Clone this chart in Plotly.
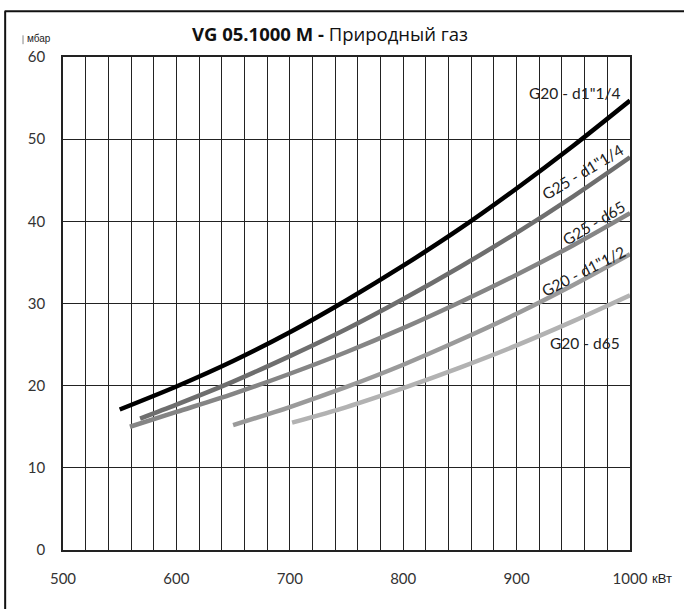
import plotly.graph_objects as go

# ---- data ----
x_g20_d114 = [550, 600, 650, 700, 750, 800, 850, 900, 950, 1000]
y_g20_d114 = [17.1, 19.9, 23.0, 26.5, 30.4, 34.6, 39.1, 44.0, 49.2, 54.7]

x_g25_d114 = [568, 600, 650, 700, 750, 800, 850, 900, 950, 1000]
y_g25_d114 = [16.0, 17.7, 20.5, 23.6, 26.9, 30.55, 34.45, 38.6, 43.05, 47.8]

x_g25_d65 = [559, 600, 650, 700, 750, 800, 850, 900, 950, 1000]
y_g25_d65 = [15.0, 16.8, 19.0, 21.45, 24.1, 27.0, 30.15, 33.5, 37.1, 41.0]

x_g20_d112 = [650, 700, 750, 800, 850, 900, 950, 1000]
y_g20_d112 = [15.2, 17.4, 19.85, 22.55, 25.55, 28.75, 32.25, 36.0]

x_g20_d65 = [702, 750, 800, 850, 900, 950, 1000]
y_g20_d65 = [15.5, 17.4, 19.7, 22.2, 24.9, 27.85, 31.0]

x_ticks = [500, 600, 700, 800, 900, 1000]
x_ticktext = ["500", "600", "700", "800", "900", "1000"]
y_ticks = [0, 10, 20, 30, 40, 50, 60]

series = [
    ("G20 - d1\"1/4", x_g20_d114, y_g20_d114, "#000000"),
    ("G25 - d1\"1/4", x_g25_d114, y_g25_d114, "#6e6e6e"),
    ("G25 - d65", x_g25_d65, y_g25_d65, "#858585"),
    ("G20 - d1\"1/2", x_g20_d112, y_g20_d112, "#9a9a9a"),
    ("G20 - d65", x_g20_d65, y_g20_d65, "#b2b2b2"),
]

# label placement (data coords) and angles
labels = [
    ("G20 - d1\"1/4", 951, 55.6, 0),
    ("G25 - d1\"1/4", 958, 46.0, -31),
    ("G25 - d65", 968, 39.8, -31),
    ("G20 - d1\"1/2", 959, 33.9, -27),
    ("G20 - d65", 960, 25.2, 0),
]

fig = go.Figure()
for name, xs, ys, col in series:
    fig.add_trace(go.Scatter(x=xs, y=ys, mode="lines", name=name,
                             line=dict(color=col, width=4.5, shape="spline", smoothing=0.8),
                             showlegend=False, hoverinfo="skip"))

font_fam = "Lato, 'Open Sans', sans-serif"

for txt, lx, ly, ang in labels:
    fig.add_annotation(x=lx, y=ly, text=txt, textangle=ang, showarrow=False,
                       font=dict(family=font_fam, size=15.5, color="#222"))

fig.add_annotation(xref="paper", yref="paper", x=1.0, y=0, xshift=20, yshift=-28,
                   xanchor="left", yanchor="middle", text="кВт", showarrow=False,
                   font=dict(family="'Liberation Sans Narrow', 'Liberation Sans', sans-serif", size=13, color="#222"))
fig.add_annotation(xref="paper", yref="paper", x=0, y=1, xshift=-38, yshift=19,
                   xanchor="left", yanchor="middle", text="мбар", showarrow=False,
                   font=dict(family="'Liberation Sans Narrow', 'Liberation Sans', sans-serif", size=10, color="#222"))

# outer border (left and top edges visible)
fig.add_shape(type="line", xref="paper", yref="paper", x0=-0.102, x1=-0.102, y0=-0.2, y1=1.093,
              line=dict(color="#111", width=2))
fig.add_shape(type="line", xref="paper", yref="paper", x0=-0.103, x1=1.2, y0=1.093, y1=1.093,
              line=dict(color="#111", width=2))
# small tick mark near unit label
fig.add_shape(type="line", xref="paper", yref="paper", x0=-0.0705, x1=-0.0705, y0=1.026, y1=1.044,
              line=dict(color="#888", width=1))

fig.update_layout(
    width=684, height=609,
    margin=dict(l=63, r=54, t=57, b=59),
    paper_bgcolor="white", plot_bgcolor="white",
    title=dict(text="<b>VG 05.1000 M - </b>Природный газ", x=330 / 684, xanchor="center",
               y=1 - 35 / 609, yanchor="middle",
               font=dict(family="'Open Sans', sans-serif", size=18.5, color="#111")),
    xaxis=dict(range=[500, 1000], tickvals=x_ticks, ticktext=x_ticktext,
               showgrid=False, zeroline=False, showline=True, linecolor="#222", linewidth=1.5,
               mirror=True, ticks="", ticklabelstandoff=14,
               tickfont=dict(family=font_fam, size=15, color="#333"),
               minor=dict(dtick=20, showgrid=True, gridcolor="#222", gridwidth=1)),
    yaxis=dict(range=[0, 60], tickvals=y_ticks, showgrid=True, gridcolor="#222", gridwidth=1,
               zeroline=False, showline=True, linecolor="#222", linewidth=1.5, mirror=True,
               ticks="", ticklabelstandoff=13,
               tickfont=dict(family=font_fam, size=15, color="#333")),
)

fig.write_html("out.html", config={"displayModeBar": False},
               post_script="document.body.style.margin='0';")
